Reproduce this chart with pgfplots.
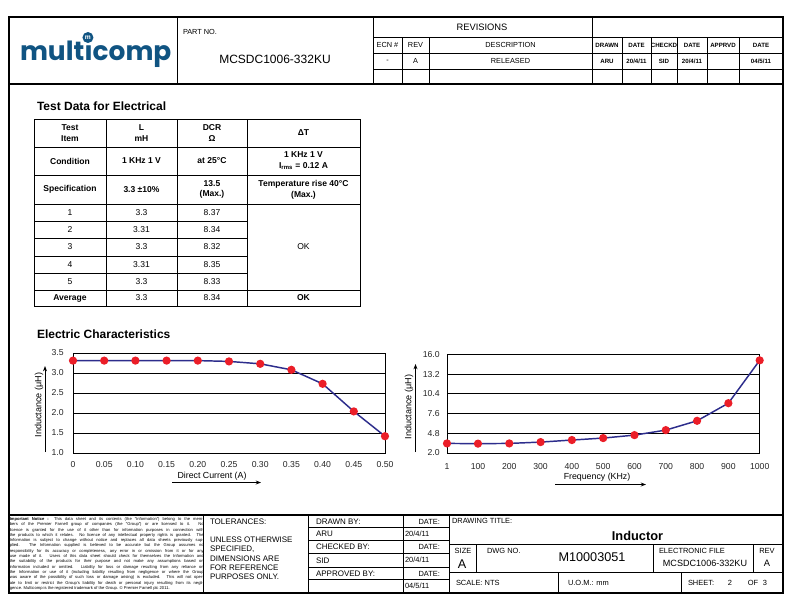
\documentclass[border=0pt]{standalone}
\usepackage{pgfplots}
\pgfplotsset{compat=1.18}
\usepackage{fontspec}
\setmainfont{Liberation Sans}
\newfontfamily\logofont{Poppins}
\usetikzlibrary{arrows.meta,calc}
\definecolor{mcblue}{RGB}{16,84,130}
\definecolor{navyline}{RGB}{45,45,140}
\definecolor{markred}{RGB}{235,30,40}
\newcommand\fs[2]{\fontsize{#1}{#2}\selectfont}

\pgfplotstableread{
I L
0    3.31
0.05 3.31
0.10 3.31
0.15 3.31
0.20 3.31
0.25 3.29
0.30 3.23
0.35 3.08
0.40 2.73
0.45 2.04
0.50 1.42
}\dcdata

\pgfplotstableread{
F L
1    3.36
100  3.33
200  3.36
300  3.55
400  3.84
500  4.12
600  4.54
700  5.25
800  6.57
900  9.07
1000 15.15
}\freqdata

\begin{document}
\begin{tikzpicture}[x=0.75pt,y=0.75pt]
\path[use as bounding box, fill=white] (0,0) rectangle (792,-612);

\begin{scope}[every node/.style={inner sep=0pt, outer sep=0pt}]
% ---------------- frame ----------------
\draw[line width=1.5pt] (8.5,-16.5) rectangle (782.5,-593);
\draw[line width=1.5pt] (8.5,-84) -- (782.5,-84);
\draw[line width=1.5pt] (8.5,-515) -- (782.5,-515);
\draw[line width=0.75pt] (177,-16.5) -- (177,-84);
\draw[line width=0.75pt] (373,-16.5) -- (373,-84);

% logo
\node[anchor=base west] (la) at (20,-60) {\logofont\bfseries\fs{19.8}{20}\color{mcblue}mult};
\node[anchor=base west] (lb) at (la.base east) {\logofont\bfseries\fs{19.8}{20}\color{mcblue}\symbol{"0131}comp};
\fill[mcblue] ($(la.base east)+(3.7,22.5)$) circle (5.5);
\node[text=white] at ($(la.base east)+(3.7,22.7)$) {\bfseries\fs{5}{5}m};

% part no
\node[anchor=west] at (183,-32) {\fs{5.5}{6}PART NO.};
\node at (275,-59) {\fs{9}{10}MCSDC1006-332KU};

% revisions
\begin{scope}[line width=0.6pt]
\draw (373,-37) -- (782.5,-37);
\draw (373,-53) -- (782.5,-53);
\draw (373,-69.5) -- (782.5,-69.5);
\draw (592,-16.5) -- (592,-84);
\foreach \xx in {402,429,622,651,677,707,739} {\draw (\xx,-37) -- (\xx,-84);}
\end{scope}
\node at (482,-27) {\fs{7}{8}REVISIONS};
\begin{scope}[every node/.append style={font=\fs{5.5}{6}}]
\node at (387.5,-45) {ECN \#};
\node at (415.5,-45) {REV};
\node at (510.5,-45) {DESCRIPTION};
\node at (387.5,-61) {-};
\node at (415.5,-61) {A};
\node at (510.5,-61) {RELEASED};
\end{scope}
\begin{scope}[every node/.append style={font=\bfseries\fs{4.6}{5}}]
\node at (607,-45) {DRAWN};
\node at (636.5,-45) {DATE};
\node at (664,-45) {CHECKD};
\node at (692,-45) {DATE};
\node at (723,-45) {APPRVD};
\node at (761,-45) {DATE};
\node at (607,-61) {ARU};
\node at (636.5,-61) {20/4/11};
\node at (664,-61) {SID};
\node at (692,-61) {20/4/11};
\node at (761,-61) {04/5/11};
\end{scope}

% ---------------- table ----------------
\node[anchor=base west] at (37,-110) {\bfseries\fs{9}{10}Test Data for Electrical};
\begin{scope}[line width=0.6pt]
\draw (34,-119) rectangle (360,-306);
\foreach \yy in {147,175,204,290} {\draw (34,-\yy) -- (360,-\yy);}
\foreach \yy in {221,238,256,273} {\draw (34,-\yy) -- (247,-\yy);}
\foreach \xx in {106,177,247} {\draw (\xx,-119) -- (\xx,-306);}
\end{scope}
\begin{scope}[every node/.append style={font=\bfseries\fs{6.4}{8}, align=center}]
\node at (70,-133) {Test\\Item};
\node at (141.5,-133) {L\\mH};
\node at (212,-133) {DCR\\Ω};
\node at (303.5,-133) {ΔT};
\node at (70,-161) {Condition};
\node at (141.5,-161) {1 KHz 1 V};
\node at (212,-161) {at 25°C};
\node at (303.5,-161) {1 KHz 1 V\\I\textsubscript{rms} = 0.12 A};
\node at (70,-189.5) {Specification};
\node at (141.5,-189.5) {3.3 ±10\%};
\node at (212,-189.5) {13.5\\(Max.)};
\node at (303.5,-189.5) {Temperature rise 40°C\\(Max.)};
\node at (70,-298) {Average};
\node at (303.5,-298) {OK};
\end{scope}
\begin{scope}[every node/.append style={font=\fs{6.4}{8}}]
\node at (70,-212.5) {1};   \node at (141.5,-212.5) {3.3};  \node at (212,-212.5) {8.37};
\node at (70,-229.5) {2};   \node at (141.5,-229.5) {3.31}; \node at (212,-229.5) {8.34};
\node at (70,-247) {3};     \node at (141.5,-247) {3.3};    \node at (212,-247) {8.32};
\node at (70,-264.5) {4};   \node at (141.5,-264.5) {3.31}; \node at (212,-264.5) {8.35};
\node at (70,-281.5) {5};   \node at (141.5,-281.5) {3.3};  \node at (212,-281.5) {8.33};
\node at (303.5,-247) {OK};
\node at (141.5,-298) {3.3};
\node at (212,-298) {8.34};
\end{scope}

% ---------------- chart titles / labels ----------------
\node[anchor=base west] at (37,-338) {\bfseries\fs{9}{10}Electric Characteristics};
\node[rotate=90] at (39,-405) {\fs{6.8}{7}Inductance (μH)};
\draw[line width=0.7pt, -{Stealth[length=4pt,width=3pt]}] (45,-452) -- (45,-366);
\node at (212,-476) {\fs{6.6}{7}Direct Current (A)};
\draw[line width=0.7pt, -{Stealth[length=4pt,width=3pt]}] (172,-482.5) -- (261,-482.5);

\node[rotate=90] at (409,-407) {\fs{6.8}{7}Inductance (μH)};
\draw[line width=0.7pt, -{Stealth[length=4pt,width=3pt]}] (415.5,-452) -- (415.5,-364);
\node at (597,-477) {\fs{6.6}{7}Frequency (KHz)};
\draw[line width=0.7pt, -{Stealth[length=4pt,width=3pt]}] (555,-484.5) -- (646,-484.5);

% ---------------- footer ----------------
\node[anchor=north west, text width=145.5pt, align=justify, font=\fs{3.1}{3.97}] at (9.8,-517.5) {%
\textbf{Important Notice :} This data sheet and its contents (the ``Information'') belong to the mem-\linebreak
bers of the Premier Farnell group of companies (the ``Group'') or are licensed to it. No\linebreak
licence is granted for the use of it other than for information purposes in connection with\linebreak
the products to which it relates. No licence of any intellectual property rights is granted. The\linebreak
Information is subject to change without notice and replaces all data sheets previously sup-\linebreak
plied. The Information supplied is believed to be accurate but the Group assumes no\linebreak
responsibility for its accuracy or completeness, any error in or omission from it or for any\linebreak
use made of it. Users of this data sheet should check for themselves the Information and\linebreak
the suitability of the products for their purpose and not make any assumptions based on\linebreak
information included or omitted. Liability for loss or damage resulting from any reliance on\linebreak
the Information or use of it (including liability resulting from negligence or where the Group\linebreak
was aware of the possibility of such loss or damage arising) is excluded. This will not oper-\linebreak
ate to limit or restrict the Group's liability for death or personal injury resulting from its negli-\linebreak
gence. Multicomp is the registered trademark of the Group. © Premier Farnell plc 2011.};

\begin{scope}[line width=0.6pt]
\foreach \xx in {203,308,403,449} {\draw (\xx,-515) -- (\xx,-593);}
\foreach \yy in {527,540,553,567,579.5} {\draw (308,-\yy) -- (449,-\yy);}
\draw (449,-544) -- (782.5,-544);
\draw (449,-572.5) -- (782.5,-572.5);
\foreach \xx in {476,653,753} {\draw (\xx,-544) -- (\xx,-572.5);}
\foreach \xx in {558,681.5} {\draw (\xx,-572.5) -- (\xx,-593);}
\end{scope}

\begin{scope}[every node/.append style={font=\fs{6}{6.9}}]
\node[anchor=west] at (210,-522) {TOLERANCES:};
\node[anchor=north west, align=left] at (210,-537) {UNLESS OTHERWISE\\SPECIFIED,\\DIMENSIONS ARE\\FOR REFERENCE\\PURPOSES ONLY.};
\node[anchor=west] at (316,-521.5) {DRAWN BY:};
\node[anchor=west] at (316,-534) {ARU};
\node[anchor=west] at (316,-547) {CHECKED BY:};
\node[anchor=west] at (316,-560.5) {SID};
\node[anchor=west] at (316,-573.5) {APPROVED BY:};
\end{scope}
\begin{scope}[every node/.append style={font=\fs{5.6}{6}}]
\node[anchor=east] at (440,-521.5) {DATE:};
\node[anchor=west] at (405,-534) {20/4/11};
\node[anchor=east] at (440,-547) {DATE:};
\node[anchor=west] at (405,-560) {20/4/11};
\node[anchor=east] at (440,-573.5) {DATE:};
\node[anchor=west] at (405,-585.5) {04/5/11};
\node[anchor=west] at (452,-521) {DRAWING TITLE:};
\node at (463,-551) {SIZE};
\node[anchor=west] at (487,-550.5) {DWG NO.};
\node[anchor=west] at (659,-550.5) {ELECTRONIC FILE};
\node at (767,-551) {REV};
\node[anchor=west] at (456,-583) {SCALE: NTS};
\node[anchor=west] at (568,-583) {U.O.M.: mm};
\node[anchor=west] at (688,-583) {SHEET:};
\node at (730,-583) {2};
\node at (753,-583) {OF};
\node at (765,-583) {3};
\end{scope}
\node at (637.5,-536) {\bfseries\fs{9.6}{10}Inductor};
\node at (462,-564.5) {\fs{9.5}{10}A};
\node at (592,-557) {\fs{9.5}{10}M10003051};
\node at (705,-563.7) {\fs{6.8}{7}MCSDC1006-332KU};
\node at (767,-563.7) {\fs{7}{8}A};
\end{scope}

% ---------------- chart 1 ----------------
\begin{axis}[at={(54.75pt,-339.75pt)}, anchor=south west, scale only axis,
  width=234pt, height=75pt,
  xmin=0, xmax=0.5, ymin=1, ymax=3.5,
  xtick={0,0.05,0.1,0.15,0.2,0.25,0.3,0.35,0.4,0.45,0.5},
  xticklabels={0,0.05,0.10,0.15,0.20,0.25,0.30,0.35,0.40,0.45,0.50},
  ytick={1,1.5,2,2.5,3,3.5},
  /pgf/number format/assume math mode=true,
  tick label style={font=\fs{6.5}{7}, text=black!85},
  xticklabel style={yshift=-2.5pt},
  yticklabel style={xshift=-3.5pt, /pgf/number format/.cd, fixed, fixed zerofill, precision=1},
  major tick length=0pt,
  ymajorgrids, grid style={black, line width=0.5pt},
  axis line style={black, line width=0.6pt},
  clip=false]
\addplot[navyline, line width=1.1pt, mark=*, mark size=2.5pt,
  mark options={fill=markred, draw=markred}] table[x=I, y=L] {\dcdata};
\end{axis}

% ---------------- chart 2 ----------------
\begin{axis}[at={(335.25pt,-339.75pt)}, anchor=south west, scale only axis,
  width=234.5pt, height=74pt,
  xmin=1, xmax=1000, ymin=2, ymax=16,
  xtick={1,100,200,300,400,500,600,700,800,900,1000},
  xticklabels={1,100,200,300,400,500,600,700,800,900,1000},
  ytick={2,4.8,7.6,10.4,13.2,16},
  /pgf/number format/assume math mode=true,
  tick label style={font=\fs{6.5}{7}, text=black!85},
  xticklabel style={yshift=-4.5pt},
  yticklabel style={xshift=-2pt, /pgf/number format/.cd, fixed, fixed zerofill, precision=1},
  major tick length=0pt,
  ymajorgrids, grid style={black, line width=0.5pt},
  axis line style={black, line width=0.6pt},
  clip=false]
\addplot[navyline, line width=1.1pt, mark=*, mark size=2.5pt,
  mark options={fill=markred, draw=markred}] table[x=F, y=L] {\freqdata};
\end{axis}
\end{tikzpicture}
\end{document}
